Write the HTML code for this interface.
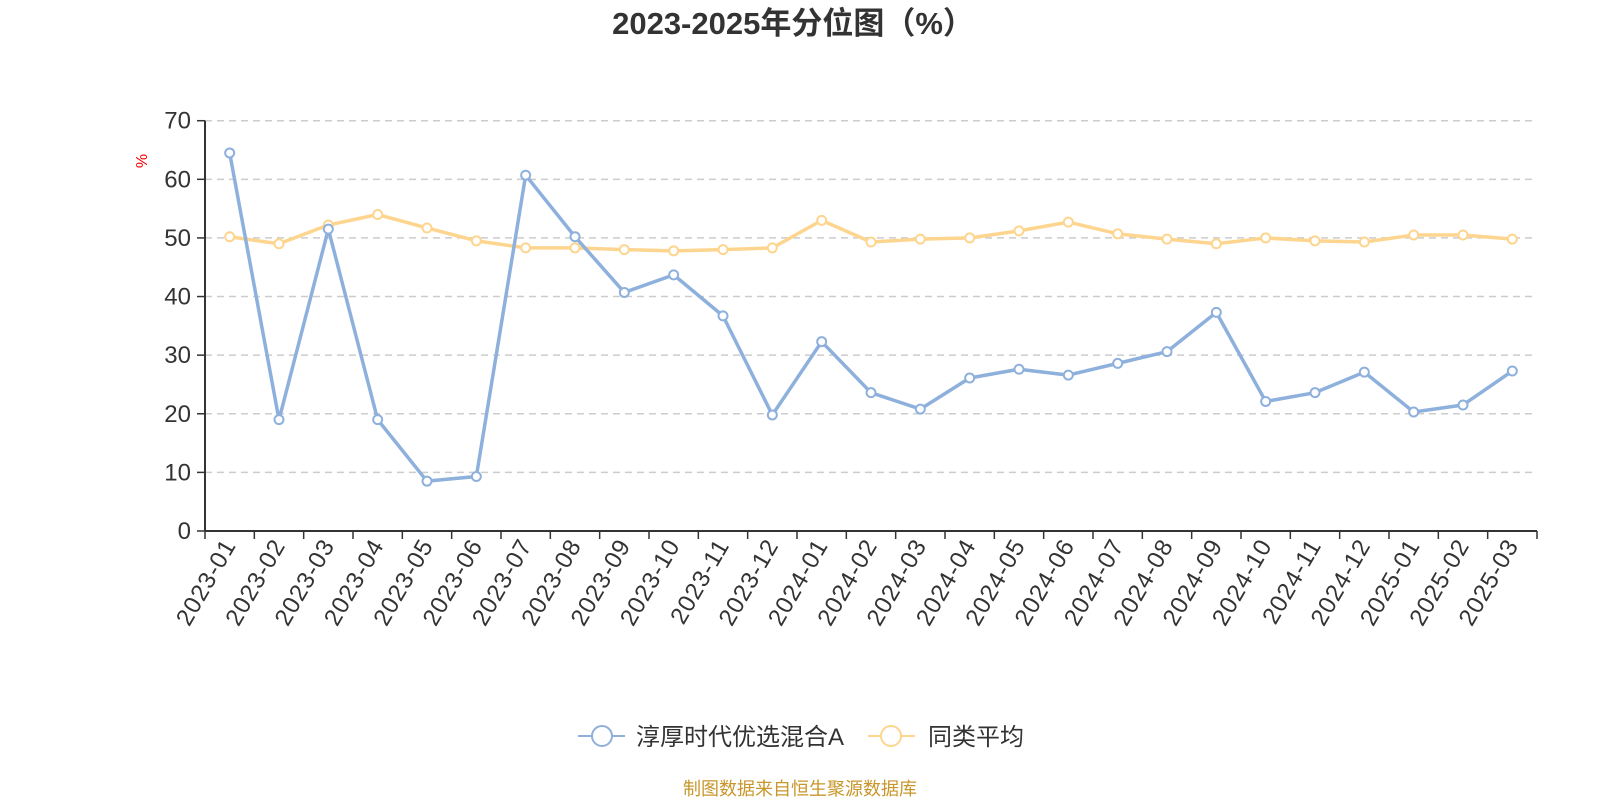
<!DOCTYPE html>
<html><head><meta charset="utf-8"><style>
body{margin:0;background:#fff;width:1600px;height:800px;overflow:hidden;font-family:"Liberation Sans","Noto Sans CJK SC",sans-serif}
</style></head><body>
<svg id="c" width="1600" height="800" xmlns="http://www.w3.org/2000/svg" font-family="Liberation Sans, Noto Sans CJK SC, sans-serif">
<text x="793" y="34" text-anchor="middle" font-size="31" font-weight="bold" fill="#333">2023-2025年分位图（%）</text>
<text transform="translate(147,161) rotate(-90)" text-anchor="middle" font-size="16" fill="#e00">%</text>
<g id="grid"></g><g id="axes"></g><g id="series"></g>
<g>
<line x1="578" y1="736" x2="625" y2="736" stroke="#8eb0dc" stroke-width="2"/>
<circle cx="602" cy="736" r="10" fill="#fff" stroke="#8eb0dc" stroke-width="2"/>
<text x="636" y="745" font-size="24" fill="#333">淳厚时代优选混合A</text>
<line x1="868" y1="736" x2="915" y2="736" stroke="#fdd58e" stroke-width="2"/>
<circle cx="891" cy="736" r="10" fill="#fff" stroke="#fdd58e" stroke-width="2"/>
<text x="928" y="745" font-size="24" fill="#333">同类平均</text>
</g>
<text x="800" y="795" text-anchor="middle" font-size="18" fill="#c8962a">制图数据来自恒生聚源数据库</text>
</svg>
<script>
const categories=["2023-01","2023-02","2023-03","2023-04","2023-05","2023-06","2023-07","2023-08","2023-09","2023-10","2023-11","2023-12","2024-01","2024-02","2024-03","2024-04","2024-05","2024-06","2024-07","2024-08","2024-09","2024-10","2024-11","2024-12","2025-01","2025-02","2025-03"];
const fundValues=[64.5,19,51.5,19,8.5,9.3,60.7,50.2,40.7,43.7,36.7,19.8,32.3,23.6,20.8,26.1,27.6,26.6,28.6,30.6,37.3,22.1,23.6,27.1,20.3,21.5,27.3];
const avgValues=[50.2,49,52.2,54,51.7,49.5,48.3,48.3,48,47.8,48,48.3,53,49.3,49.8,50,51.2,52.7,50.7,49.8,49,50,49.5,49.3,50.5,50.5,49.8];
const yTicks=[0,10,20,30,40,50,60,70];
const NS="http://www.w3.org/2000/svg";
const L=205,R=1537,T=120.7,B=531,YMAX=70;
const bw=(R-L)/categories.length;
const xs=i=>L+bw*(i+0.5);
const ys=v=>B-(v/YMAX)*(B-T);
function mk(tag,attrs,parent){const e=document.createElementNS(NS,tag);for(const k in attrs)e.setAttribute(k,attrs[k]);parent.appendChild(e);return e;}
const grid=document.getElementById('grid'),axes=document.getElementById('axes'),series=document.getElementById('series');
yTicks.forEach(t=>{
 if(t>0){const g=mk('line',{x1:L,x2:R,y1:ys(t),y2:ys(t),stroke:'#ccc','stroke-width':1.5,'stroke-dasharray':'7,5'},grid);
 
 }
 const tk=mk('line',{x1:L-8,x2:L,y1:ys(t),y2:ys(t),stroke:'#333','stroke-width':1.5},axes);
 
 
 const lb=mk('text',{x:L-14,y:ys(t)+8,'text-anchor':'end','font-size':24,fill:'#333'},axes);
 lb.textContent=t;
 
 
});
const ya=mk('line',{x1:L,x2:L,y1:T,y2:B,stroke:'#333','stroke-width':2},axes);


const xa=mk('line',{x1:L,x2:R,y1:B,y2:B,stroke:'#333','stroke-width':2},axes);


for(let i=0;i<=categories.length;i++){
 const tk=mk('line',{x1:L+bw*i,x2:L+bw*i,y1:B,y2:B+8,stroke:'#333','stroke-width':1.5},axes);
 
 
}
categories.forEach((c,i)=>{
 const x=xs(i)+7,y=B+14;
 const lb=mk('text',{x:x,y:y,'text-anchor':'end','font-size':24,'letter-spacing':'1',fill:'#333',transform:`rotate(-60 ${x} ${y})`},axes);
 lb.textContent=c;
 
 
});
function drawSeries(vals,color,name){
 const p=mk('polyline',{points:vals.map((v,i)=>xs(i)+','+ys(v)).join(' '),fill:'none',stroke:color,'stroke-width':3.5,'stroke-linejoin':'round'},series);
 
 
 vals.forEach((v,i)=>{
  const c=mk('circle',{cx:xs(i),cy:ys(v),r:4.5,fill:'#fff',stroke:color,'stroke-width':2},series);
  
  
 });
}
drawSeries(avgValues,'#fdd58e','average');
drawSeries(fundValues,'#8eb0dc','fund');
</script>
</body></html>
